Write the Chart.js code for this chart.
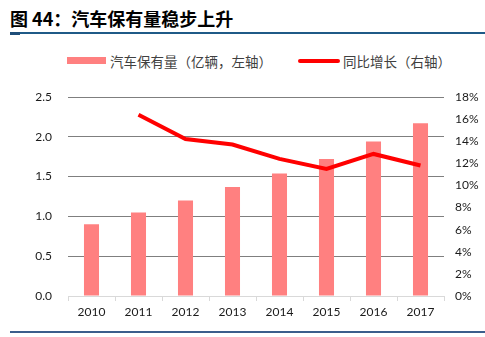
<!DOCTYPE html>
<html>
<head>
<meta charset="utf-8">
<script src="https://cdn.jsdelivr.net/npm/chart.js@4/dist/chart.umd.min.js"></script>
<style>
  html, body { margin:0; padding:0; background:#fff; }
  #wrap { position:relative; width:485px; height:337px; overflow:hidden; }
  #title { position:absolute; left:10px; top:5px; font-family:"Noto Sans CJK SC", sans-serif; font-weight:bold; font-size:18px; line-height:26px; color:#000; white-space:nowrap; }
  #rule1 { position:absolute; left:10px; top:32px; width:475px; height:2px; background:#1F5A87; }
  #rule1b { position:absolute; left:10px; top:32px; width:10px; height:3px; background:#1F4E79; }
  #rule2 { position:absolute; left:10px; top:331px; width:475px; height:1.5px; background:#3B5E8C; }
  #legend { position:absolute; left:0; top:50px; font-family:"Noto Sans CJK SC", sans-serif; font-size:13.5px; color:#404040; }
  .lg { position:absolute; white-space:nowrap; top:0; line-height:22px; }
  .swatch { position:absolute; }
  canvas { position:absolute; left:0; top:0; }
</style>
</head>
<body>
<div id="wrap">
  <div id="title">图 44：汽车保有量稳步上升</div>
  <div id="rule1"></div><div id="rule1b"></div>
  <div id="legend">
    <div class="swatch" style="left:67px; top:7px; width:39px; height:7px; background:#FF8080;"></div>
    <div class="lg" style="left:110px;">汽车保有量（亿辆，左轴）</div>
    <div class="swatch" style="left:298px; top:9px; width:42px; height:4px; background:#FF0000; border-radius:2px;"></div>
    <div class="lg" style="left:343px;">同比增长（右轴）</div>
  </div>
  <canvas id="c" width="485" height="337"></canvas>
  <div id="rule2"></div>
</div>
<script>
const years = ['2010','2011','2012','2013','2014','2015','2016','2017'];
const vehicleStock = [0.90, 1.05, 1.20, 1.37, 1.54, 1.72, 1.94, 2.17];
const yoyGrowth = [null, 16.4, 14.2, 13.7, 12.4, 11.5, 12.85, 11.8];
const leftTicks = [0, 0.5, 1.0, 1.5, 2.0, 2.5];
const rightTicks = [0, 2, 4, 6, 8, 10, 12, 14, 16, 18];

const tickFont = { family: 'Lato, "Liberation Sans", sans-serif', size: 12 };

new Chart(document.getElementById('c'), {
  data: {
    labels: years,
    datasets: [
      {
        type: 'line',
        label: '同比增长（右轴）',
        data: yoyGrowth,
        yAxisID: 'y1',
        borderColor: '#FF0000',
        borderWidth: 4,
        pointRadius: 0,
        tension: 0,
        spanGaps: false,
        order: 0
      },
      {
        type: 'bar',
        label: '汽车保有量（亿辆，左轴）',
        data: vehicleStock,
        yAxisID: 'y',
        backgroundColor: '#FF8080',
        barPercentage: 0.64,
        categoryPercentage: 0.5,
        order: 1
      }
    ]
  },
  options: {
    responsive: false,
    animation: false,
    layout: { padding: { top: 97, bottom: 0, left: 0, right: 0 } },
    plugins: { legend: { display: false }, tooltip: { enabled: false } },
    scales: {
      x: {
        offset: true,
        grid: { display: true, offset: true, drawOnChartArea: false, drawTicks: true, tickLength: 5, color: '#D9D9D9' },
        border: { display: true, color: '#D9D9D9', width: 1 },
        ticks: { color: '#1a1a1a', font: tickFont, padding: 4, maxRotation: 0 },
        afterFit: (s) => { s.height = 337 - 97 - 199; }
      },
      y: {
        position: 'left',
        min: 0, max: 2.5,
        afterBuildTicks: (s) => { s.ticks = leftTicks.map(v => ({ value: v })); },
        ticks: { color: '#1a1a1a', font: tickFont, padding: 16, callback: (v) => Number(v).toFixed(1) },
        grid: { color: '#7F7F7F', lineWidth: 1, drawTicks: false },
        border: { display: false },
        afterFit: (s) => { s.width = 68; }
      },
      y1: {
        position: 'right',
        min: 0, max: 18,
        afterBuildTicks: (s) => { s.ticks = rightTicks.map(v => ({ value: v })); },
        ticks: { color: '#1a1a1a', font: tickFont, padding: 11, callback: (v) => v + '%' },
        grid: { display: false, drawTicks: false },
        border: { display: false },
        afterFit: (s) => { s.width = 41; }
      }
    }
  }
});
</script>
</body>
</html>
